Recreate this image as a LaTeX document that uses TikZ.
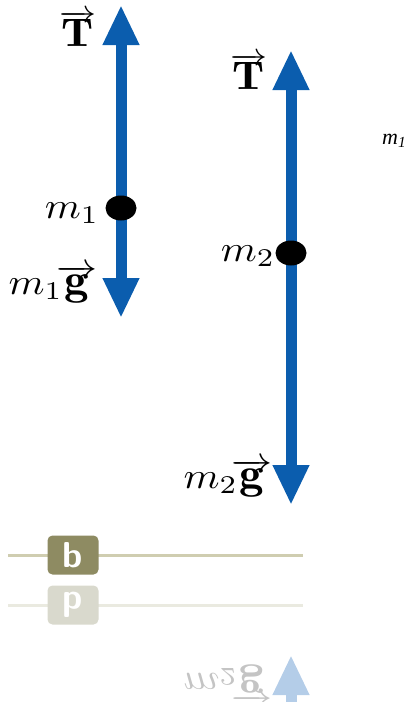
\documentclass[tikz,border=0pt]{standalone}
\usepackage{graphicx}
\usepackage{fontspec}
\usetikzlibrary{arrows.meta,shapes.geometric}
\newfontfamily\smallserif{Liberation Serif}
\newcommand{\biglbl}[1]{\scalebox{4.1}[3.65]{$#1$}}
\newcommand{\vecT}{\scalebox{3.7}[3.2]{$\overrightarrow{\scalebox{1.25}{$\mathbf{T}$}}$}}
\newcommand{\vecg}{\overrightarrow{\scalebox{1.2}{$\mathbf{g}$}}}
\definecolor{fblue}{HTML}{0B5DAE}
\definecolor{lblue}{HTML}{B4CDE8}
\definecolor{olivebox}{HTML}{8E8B62}
\definecolor{oliveline}{HTML}{CFCDB0}
\definecolor{paleline}{HTML}{EAEAE0}
\definecolor{palebox}{HTML}{D9D9CD}
\definecolor{palegray}{HTML}{C4C4C4}
\tikzset{
  bothforce/.style={draw=fblue, line width=11pt, {Triangle[length=40pt,width=34pt]}-{Triangle[length=40pt,width=34pt]}},
  mass/.style={ellipse, fill=black, minimum width=31pt, minimum height=25pt, inner sep=0pt},
  lbl/.style={inner sep=0pt},
  tabbox/.style={rounded corners=5pt, minimum width=51pt, minimum height=39pt, inner sep=0pt,
     text=white, font=\sffamily\bfseries}
}
\begin{document}
\begin{tikzpicture}[x=1pt,y=-1pt]
\useasboundingbox (0,0) rectangle (406,702);
% arrow 1
\coordinate (a1top) at (121,5);
\coordinate (a1bot) at (121,318);
\draw[bothforce] (a1bot) -- (a1top);
\node[mass] (m1dot) at (121,208) {};
% arrow 2
\coordinate (a2top) at (291,50);
\coordinate (a2bot) at (291,505);
\draw[bothforce] (a2bot) -- (a2top);
\node[mass] (m2dot) at (291,253) {};
% labels
\node[lbl] (T1) at (78,29) {\vecT};
\node[lbl] (m1l) at (72,213) {\biglbl{m_1}};
\node[lbl] (m1g) at (53,284) {\biglbl{m_1\!\vecg}};
\node[lbl] (T2) at (249,72) {\vecT};
\node[lbl] (m2l) at (248,256) {\biglbl{m_2}};
\node[lbl] (m2g) at (228,478) {\biglbl{m_2\!\vecg}};
\node[inner sep=0pt, anchor=west, font=\fontsize{22}{24}\smallserif\itshape] (m1s) at (382,141) {m\textsubscript{1}};
% tab bar
\coordinate (l1a) at (8,555);
\coordinate (l1b) at (303,555);
\draw[oliveline, line width=3pt] (l1a) -- (l1b);
\node[tabbox, fill=olivebox] (bbox) at (73,555) {\scalebox{3.6}{b}};
% reflection
\coordinate (l2a) at (8,605);
\coordinate (l2b) at (303,605);
\draw[paleline, line width=3pt] (l2a) -- (l2b);
\node[tabbox, fill=palebox, yscale=-1, transform shape] (pbox) at (73,605) {\scalebox{3.6}{b}};
\coordinate (r2tip) at (291,655);
\coordinate (r2bot) at (291,720);
\draw[draw=lblue, line width=11pt, -{Triangle[length=40pt,width=34pt]}] (r2bot) -- (r2tip);
\node[lbl, text=palegray, yscale=-1, transform shape] (m2gr) at (228,684) {\biglbl{m_2\!\vecg}};
\end{tikzpicture}
\end{document}
